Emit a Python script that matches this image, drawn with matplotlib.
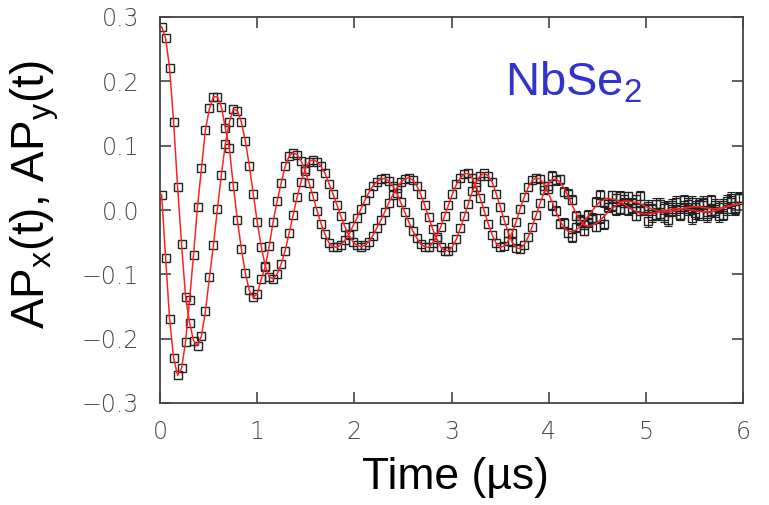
import numpy as np
import matplotlib
matplotlib.use("Agg")
import matplotlib.pyplot as plt

plt.rcParams['font.family'] = ['Liberation Sans', 'DejaVu Sans']
plt.rcParams['mathtext.fontset'] = 'custom'
plt.rcParams['mathtext.rm'] = 'Liberation Sans'

# time grid of the binned data (us)
t = 0.017 + 0.041 * np.arange(146)

# fitted curves (red lines)
fit_x = [0.285, 0.267, 0.220, 0.137, 0.036, -0.053, -0.135, -0.175, -0.203, -0.211,
         -0.196, -0.157, -0.104, -0.055, 0.002, 0.055, 0.103, 0.137, 0.157,
         0.154, 0.137, 0.108, 0.069, 0.025, -0.019, -0.057, -0.087, -0.104, -0.107,
         -0.099, -0.084, -0.063, -0.036, -0.008, 0.020, 0.044, 0.063, 0.075,
         0.078, 0.075, 0.068, 0.057, 0.041, 0.025, 0.008, -0.010, -0.026, -0.039,
         -0.049, -0.055, -0.057,
         -0.055, -0.049, -0.040, -0.028, -0.016, -0.003, 0.011, 0.023, 0.034, 0.043,
         0.048, 0.050,
         0.047, 0.038, 0.025, 0.008, -0.011, -0.029, -0.045, -0.057, -0.063,
         -0.063, -0.057, -0.045, -0.028, -0.009, 0.010, 0.029, 0.044, 0.053, 0.057,
         0.053, 0.043, 0.025, 0.005, -0.016, -0.035, -0.050, -0.059, -0.060,
         -0.054, -0.042, -0.026, -0.008, 0.011, 0.027, 0.040, 0.047, 0.048,
         0.043, 0.034, 0.022, 0.008, -0.005, -0.016, -0.023, -0.025,
         -0.024, -0.021, -0.016, -0.010, -0.004, 0.002, 0.007, 0.011, 0.014, 0.014,
         0.013, 0.012, 0.010, 0.007, 0.004, 0.002, 0.000, -0.002, -0.003,
         -0.003, -0.002, -0.001, 0.001, 0.003, 0.004, 0.005, 0.005, 0.005, 0.004,
         0.003, 0.002, 0.002, 0.003, 0.004, 0.006, 0.007, 0.008, 0.009]

fit_y = [0.024, -0.075, -0.170, -0.230, -0.257, -0.246, -0.205, -0.140, -0.070, 0.005,
         0.065, 0.125, 0.158, 0.176, 0.176, 0.160, 0.127, 0.096, 0.037,
         -0.015, -0.060, -0.098, -0.125, -0.136, -0.130, -0.108, -0.088, -0.056, -0.018,
         0.014, 0.042, 0.068, 0.084, 0.089,
         0.086, 0.076, 0.061, 0.042, 0.021, -0.001, -0.021, -0.038, -0.051, -0.057, -0.058,
         -0.054, -0.047, -0.038, -0.025, -0.013, 0.001, 0.015, 0.027, 0.037, 0.044,
         0.048, 0.049,
         0.045, 0.038, 0.026, 0.012, -0.003, -0.018, -0.032, -0.043, -0.053, -0.057, -0.058,
         -0.052, -0.042, -0.027, -0.010, 0.008, 0.025, 0.040, 0.050, 0.056, 0.057,
         0.049, 0.036, 0.018, -0.002, -0.022, -0.039, -0.052, -0.058,
         -0.056, -0.048, -0.035, -0.018, 0.002, 0.020, 0.035, 0.046, 0.050,
         0.048, 0.040, 0.027, 0.013, -0.003, -0.017, -0.027, -0.033, -0.034,
         -0.031, -0.026, -0.018, -0.010, -0.002, 0.006, 0.013, 0.016, 0.018,
         0.017, 0.016, 0.013, 0.009, 0.005, 0.001, -0.002, -0.005, -0.006, -0.006,
         -0.005, -0.004, -0.003, -0.001, 0.000, 0.001, 0.002, 0.002, 0.002, 0.001,
         0.000, -0.001, -0.002, -0.003, -0.003, -0.003, -0.001, 0.001, 0.003, 0.005,
         0.007, 0.009, 0.010]

# scatter of the data points around the fit at late times (from index 96 on)
res_x = [0.004, -0.003, 0.006, -0.002, 0.005, -0.006, 0.003, 0.008, -0.004, 0.002,
         -0.009, 0.006, 0.010, -0.005, 0.003, -0.012, 0.008, 0.004, -0.007, 0.011,
         -0.003, 0.007, -0.010, 0.005, 0.012, -0.006, 0.002, -0.011, 0.009, -0.004,
         0.006, -0.013, 0.010, 0.003, -0.008, 0.012, -0.002, 0.007, -0.010, 0.004,
         0.009, -0.006, 0.013, -0.004, 0.002, -0.011, 0.008, 0.005, -0.007, 0.010]
res_y = [-0.003, 0.005, -0.006, 0.002, -0.004, 0.007, -0.002, -0.008, 0.004, 0.009,
         -0.005, 0.003, -0.010, 0.007, 0.011, -0.004, -0.009, 0.006, 0.002, -0.012,
         0.008, -0.005, 0.010, -0.007, 0.004, 0.009, -0.011, 0.006, -0.003, 0.012,
         -0.008, 0.005, -0.002, 0.010, -0.009, 0.003, 0.008, -0.012, 0.006, -0.004,
         0.011, -0.007, 0.002, 0.009, -0.010, 0.005, -0.003, 0.012, -0.006, 0.008]

# visible error bar size for each microsecond (hidden inside the squares early on)
err_per_us = [0.0, 0.0, 0.0, 0.0, 0.007, 0.009]

fit_x = np.array(fit_x)
fit_y = np.array(fit_y)
data_x = fit_x + np.concatenate([np.zeros(96), res_x])
data_y = fit_y + np.concatenate([np.zeros(96), res_y])
err = np.array([err_per_us[min(int(v), 5)] for v in t])
show = err > 0

fig = plt.figure(figsize=(7.69, 5.05), dpi=100)
ax = fig.add_axes([160/769, 1-403/505, 583/769, 386/505])

for d in (data_x, data_y):
    ax.errorbar(t[show], d[show], yerr=err[show], fmt='none', ecolor='#222222',
                elinewidth=0.8, capsize=3, capthick=0.8, zorder=2)
    ax.plot(t, d, 's', ms=5.6, mfc='none', mec='#222222', mew=1.0, zorder=2)
ax.plot(t, fit_x, color='#ff2222', lw=1.1, zorder=3)
ax.plot(t, fit_y, color='#ff2222', lw=1.1, zorder=3)

ax.set_xlim(0, 6)
ax.set_ylim(-0.3, 0.3)
ax.set_xticks(range(7))
ax.set_yticks([-0.3, -0.2, -0.1, 0.0, 0.1, 0.2, 0.3])
ax.set_yticklabels(['\u22120.3', '\u22120.2', '\u22120.1', '0.0', '0.1', '0.2', '0.3'])
ax.tick_params(direction='in', length=8, width=1.2, color='#444444',
               labelsize=17, labelcolor='#4a4a4a', top=True, right=True)
ax.tick_params(axis='y', pad=15)
ax.tick_params(axis='x', pad=12)
for lab in ax.get_xticklabels() + ax.get_yticklabels():
    lab.set_family(['DejaVu Sans'])
    lab.set_fontweight('light')
for s in ax.spines.values():
    s.set_color('#444444')
    s.set_linewidth(1.3)

fig.text(35/769, 1-194/505, r'AP$_\mathregular{x}$(t), AP$_\mathregular{y}$(t)',
         rotation=90, ha='center', va='center', fontsize=33)
fig.text(455/769, 1-477/505, 'Time (\u00b5s)', ha='center', va='center', fontsize=32)
ax.text(3.55, 0.178, r'NbSe$_\mathregular{2}$', color='#3333cc', fontsize=34,
        ha='left', va='baseline')

fig.savefig('out.png', dpi=100)
